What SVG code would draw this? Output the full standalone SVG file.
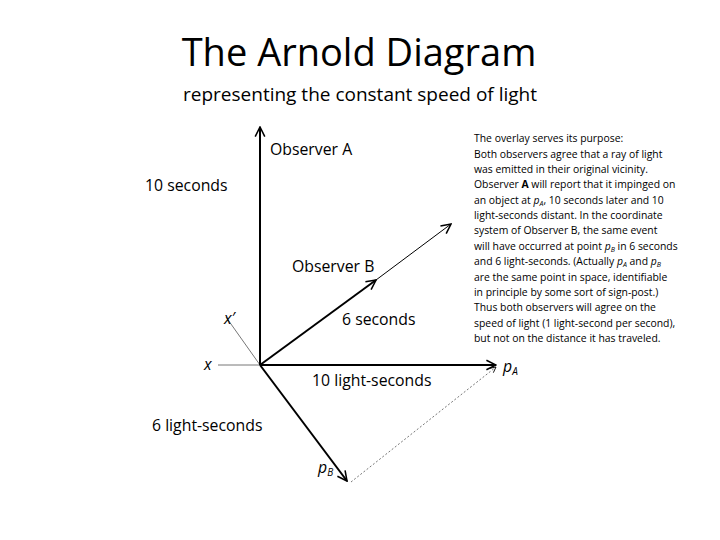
<svg xmlns="http://www.w3.org/2000/svg" width="720" height="540" viewBox="0 0 720 540">
<style>
text{font-family:"Open Sans","Liberation Sans",sans-serif;fill:#000}
.lbl{font-size:15.8px}
.p{font-size:10.4px}
.thick{stroke:#000;stroke-width:2;fill:none}
.thin{stroke:#777;stroke-width:1;fill:none}
</style>
<defs>
<marker id="ah" viewBox="0 0 10 10" refX="9" refY="5" markerWidth="7" markerHeight="7" orient="auto" markerUnits="userSpaceOnUse"><path d="M1,1 L9,5 L1,9" fill="none" stroke="#000" stroke-width="1.2"/></marker>
<marker id="ah2" viewBox="0 0 10 10" refX="9" refY="5" markerWidth="12" markerHeight="12" orient="auto" markerUnits="userSpaceOnUse"><path d="M1,1 L9,5 L1,9" fill="none" stroke="#000" stroke-width="1.3"/></marker>
</defs>
<rect width="720" height="540" fill="#fff"/>
<text x="359" y="66" text-anchor="middle" style="font-size:38px">The Arnold Diagram</text>
<text x="360" y="101" text-anchor="middle" style="font-size:19px">representing the constant speed of light</text>
<g id="connectors">
<line class="thin" x1="218" y1="365" x2="260" y2="365"/>
<line class="thin" x1="226" y1="317" x2="260" y2="365"/>
<line class="thick" x1="260" y1="365" x2="260" y2="127" marker-end="url(#ah2)"/>
<line class="thick" x1="260" y1="365" x2="496" y2="365" marker-end="url(#ah2)"/>
<line class="thick" x1="260" y1="365" x2="376" y2="280" marker-end="url(#ah2)"/>
<line stroke="#000" stroke-width="1" x1="376" y1="280" x2="451" y2="224" marker-end="url(#ah2)"/>
<line class="thick" x1="260" y1="365" x2="347" y2="481" marker-end="url(#ah2)"/>
<line class="thin" stroke-dasharray="2,2" x1="351" y1="482" x2="496" y2="367" marker-end="url(#ah)"/>
</g>
<g id="labels">
<text class="lbl" x="270" y="155">Observer A</text>
<text class="lbl" x="145" y="191">10 seconds</text>
<text class="lbl" x="292" y="272">Observer B</text>
<text class="lbl" x="342" y="325">6 seconds</text>
<text class="lbl" x="224" y="324" font-style="italic">x′</text>
<text class="lbl" x="204" y="370" font-style="italic">x</text>
<text class="lbl" x="312" y="386">10 light-seconds</text>
<text class="lbl" x="152" y="431">6 light-seconds</text>
<text class="lbl" x="318" y="473" font-style="italic">p<tspan font-size="10" dy="3">B</tspan></text>
<text class="lbl" x="503" y="372" font-style="italic">p<tspan font-size="10" dy="3">A</tspan></text>
</g>
<g id="note" class="p">
<text x="474" y="142">The overlay serves its purpose:</text>
<text x="474" y="158">Both observers agree that a ray of light</text>
<text x="474" y="173">was emitted in their original vicinity.</text>
<text x="474" y="188">Observer <tspan font-weight="bold">A</tspan> will report that it impinged on</text>
<text x="474" y="204">an object at <tspan font-style="italic">p<tspan font-size="7" dy="2">A</tspan></tspan><tspan dy="-2">, 10 seconds later and 10</tspan></text>
<text x="474" y="219">light-seconds distant. In the coordinate</text>
<text x="474" y="234">system of Observer B, the same event</text>
<text x="474" y="250">will have occurred at point <tspan font-style="italic">p<tspan font-size="7" dy="2">B</tspan></tspan><tspan dy="-2"> in 6 seconds</tspan></text>
<text x="474" y="265">and 6 light-seconds. (Actually <tspan font-style="italic">p<tspan font-size="7" dy="2">A</tspan></tspan><tspan dy="-2"> and </tspan><tspan font-style="italic">p<tspan font-size="7" dy="2">B</tspan></tspan></text>
<text x="474" y="281">are the same point in space, identifiable</text>
<text x="474" y="296">in principle by some sort of sign-post.)</text>
<text x="474" y="311">Thus both observers will agree on the</text>
<text x="474" y="327">speed of light (1 light-second per second),</text>
<text x="474" y="342">but not on the distance it has traveled.</text>
</g>
</svg>
